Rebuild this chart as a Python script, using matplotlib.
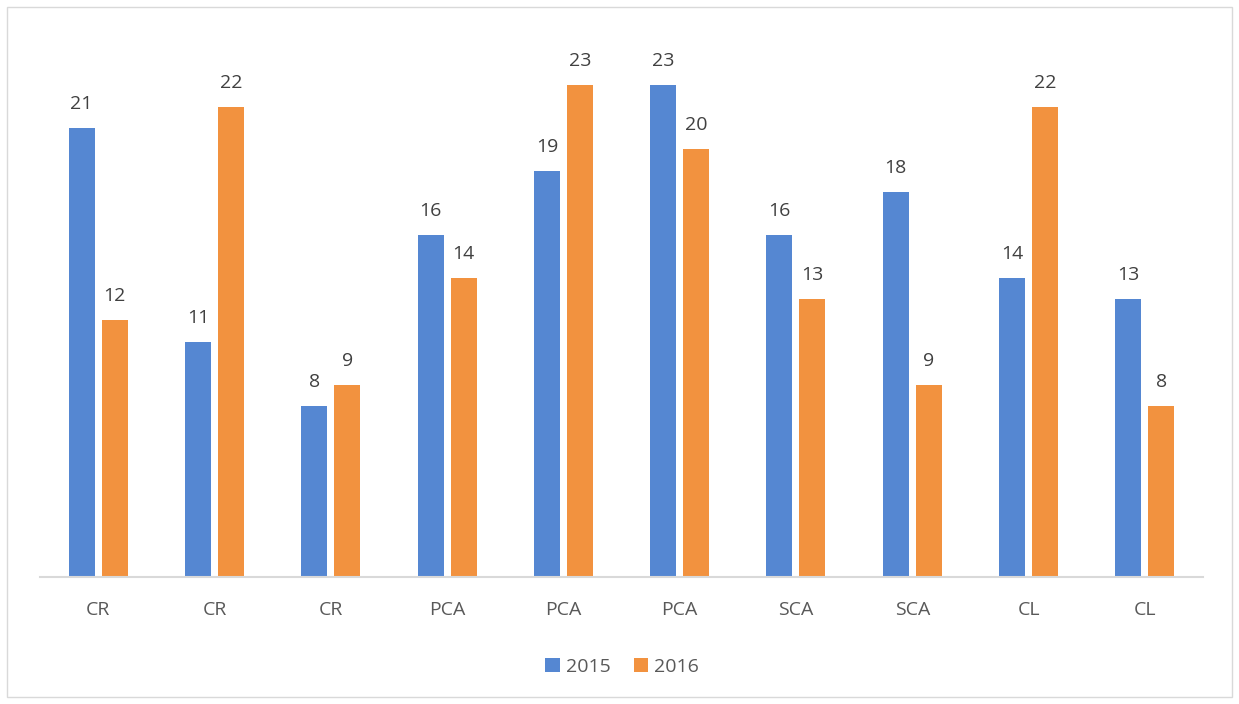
import numpy as np
import matplotlib.pyplot as plt
from matplotlib.patches import Rectangle

categories = ['CR', 'CR', 'CR', 'PCA', 'PCA', 'PCA', 'SCA', 'SCA', 'CL', 'CL']
vals_2015 = [21, 11, 8, 16, 19, 23, 16, 18, 14, 13]
vals_2016 = [12, 22, 9, 14, 23, 20, 13, 9, 22, 8]
series_names = ['2015', '2016']

blue = '#5587D2'
orange = '#F2923F'

plt.rcParams['font.family'] = ['Open Sans', 'DejaVu Sans']

fig = plt.figure(figsize=(12.39, 7.04), dpi=100)
ax = fig.add_axes([40 / 1239, 1 - 577 / 704, (1203 - 40) / 1239, (577 - 42.5) / 704])

x = np.arange(len(categories))
w = 0.224
off = 0.142
b1 = ax.bar(x - off, vals_2015, w, color=blue, label=series_names[0])
b2 = ax.bar(x + off, vals_2016, w, color=orange, label=series_names[1])

for bars in (b1, b2):
    for r in bars:
        ax.text(r.get_x() + r.get_width() / 2, r.get_height() + 0.7, str(int(r.get_height())),
                ha='center', va='bottom', fontsize=14, color='#404040')

ax.set_xlim(-0.5, len(categories) - 0.5)
ax.set_ylim(0, 25)
ax.set_xticks(x)
ax.set_xticklabels(categories, fontsize=14, color='#595959')
ax.tick_params(axis='x', length=0, pad=17)
ax.set_yticks([])
for s in ['top', 'right', 'left']:
    ax.spines[s].set_visible(False)
ax.spines['bottom'].set_color('#D9D9D9')
ax.spines['bottom'].set_linewidth(1.5)

leg = fig.legend(loc='center', bbox_to_anchor=(622 / 1239, 1 - 667 / 704), ncol=2, frameon=False,
                 fontsize=14, handlelength=0.75, handleheight=0.75, columnspacing=1.2, handletextpad=0.3)
for t in leg.get_texts():
    t.set_color('#595959')

fig.patches.append(Rectangle((7 / 1239, 7 / 704), 1225 / 1239, 690 / 704, transform=fig.transFigure,
                             fill=False, edgecolor='#D9D9D9', linewidth=1))

fig.savefig('out.png', dpi=100)
